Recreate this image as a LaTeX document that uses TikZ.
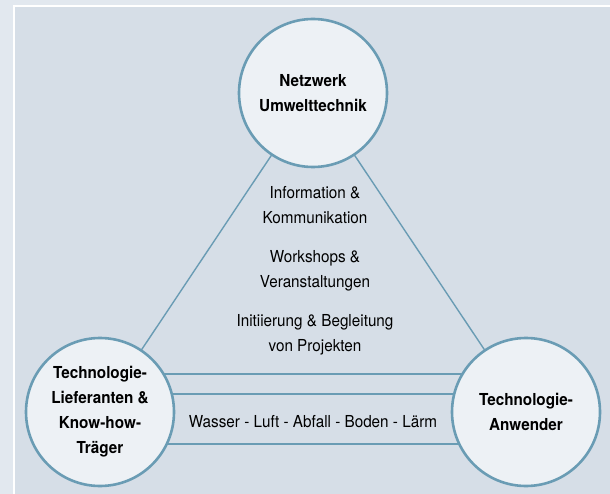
\documentclass[tikz,border=0pt]{standalone}
\usepackage{fontspec}
\setmainfont{TeX Gyre Heros}[FakeStretch=0.925]
\begin{document}
\definecolor{outerbg}{HTML}{E2E8EF}
\definecolor{panelbg}{HTML}{D6DEE7}
\definecolor{circfill}{HTML}{EDF1F5}
\definecolor{linecol}{HTML}{6A9CB4}
\begin{tikzpicture}[x=1pt,y=-1pt,
  actor/.style={circle,draw=linecol,line width=2.6pt,fill=circfill,minimum size=148pt,inner sep=0pt,align=center,font=\fontsize{16.5}{25}\selectfont\bfseries},
  link/.style={draw=linecol,line width=1.4pt},
  label/.style={align=center,font=\fontsize{16.5}{25}\selectfont,inner sep=0pt}]
\useasboundingbox (0,0) rectangle (610,494);
\fill[outerbg] (0,0) rectangle (610,494);
\fill[panelbg] (14,6) rectangle (610,494);
\draw[white,line width=2pt] (14,494) -- (14,6) -- (610,6);
\coordinate (tc) at (313,93);
\coordinate (lc) at (100,412);
\coordinate (rc) at (526,412);
\draw[link] (tc) -- (lc);
\draw[link] (tc) -- (rc);
\coordinate (l1) at (100,374); \coordinate (r1) at (526,374);
\coordinate (l2) at (100,394); \coordinate (r2) at (526,394);
\coordinate (l3) at (100,444); \coordinate (r3) at (526,444);
\draw[link] (l1) -- (r1);
\draw[link] (l2) -- (r2);
\draw[link] (l3) -- (r3);
\node[actor] (top) at (tc) {Netzwerk\\Umwelttechnik};
\node[actor] (left) at (lc) {Technologie-\\Lieferanten \&\\Know-how-\\Träger};
\node[actor] (right) at (rc) {Technologie-\\Anwender};
\node[label] (info) at (315,205.5) {Information \&\\Kommunikation};
\node[label] (work) at (315,270.5) {Workshops \&\\Veranstaltungen};
\node[label] (proj) at (315,334.5) {Initiierung \& Begleitung\\von Projekten};
\node[label] (media) at (313,422) {Wasser - Luft - Abfall - Boden - Lärm};
\end{tikzpicture}
\end{document}
